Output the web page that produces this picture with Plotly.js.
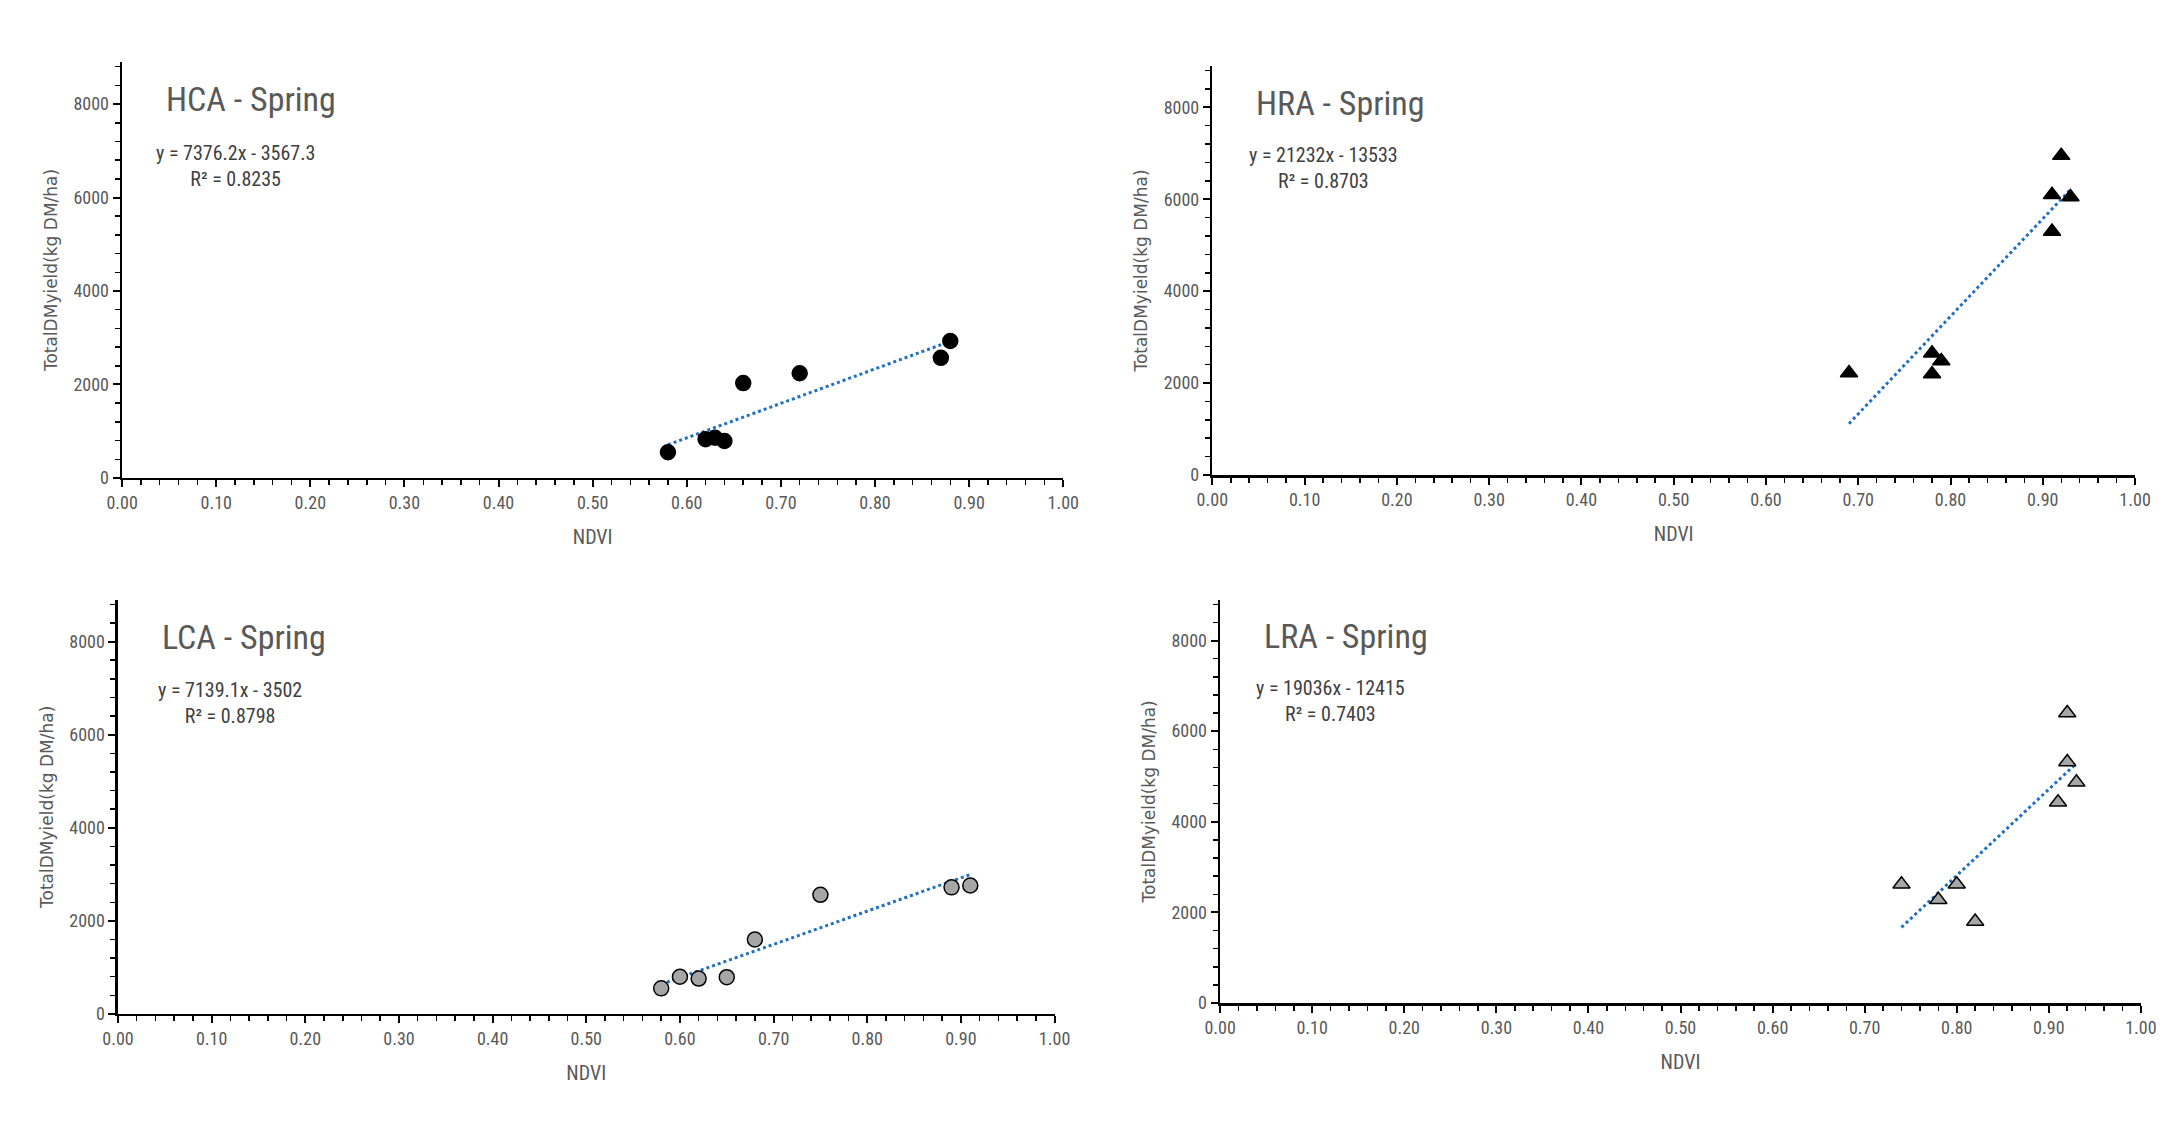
<!DOCTYPE html>
<html>
<head>
<meta charset="utf-8">
<script src="https://cdn.plot.ly/plotly-3.0.1.min.js"></script>
<style>
  html, body { margin: 0; padding: 0; background: #fff; }
  #chart { width: 2161px; height: 1138px; }
</style>
</head>
<body>
<div id="chart"></div>
<script>
// ---- data ----
const hcaX = [0.58, 0.62, 0.63, 0.64, 0.66, 0.72, 0.87, 0.88];
const hcaY = [550, 830, 860, 790, 2030, 2240, 2570, 2930];
const hraX = [0.69, 0.78, 0.78, 0.79, 0.91, 0.91, 0.92, 0.93];
const hraY = [2220, 2650, 2200, 2480, 6100, 5300, 6950, 6050];
const lcaX = [0.58, 0.60, 0.62, 0.65, 0.68, 0.75, 0.89, 0.91];
const lcaY = [550, 800, 760, 790, 1600, 2560, 2720, 2760];
const lraX = [0.74, 0.78, 0.80, 0.82, 0.91, 0.92, 0.92, 0.93];
const lraY = [2620, 2280, 2620, 1800, 4430, 6400, 5320, 4870];

// linear trend coefficients [slope, intercept] as printed on the chart
const hcaFit = [7376.2, -3567.3];
const hraFit = [21232, -13533];
const lcaFit = [7139.1, -3502];
const lraFit = [19036, -12415];

const panelTitles = ["HCA - Spring", "HRA - Spring", "LCA - Spring", "LRA - Spring"];
const equations = [
  "y = 7376.2x - 3567.3<br>R² = 0.8235",
  "y = 21232x - 13533<br>R² = 0.8703",
  "y = 7139.1x - 3502<br>R² = 0.8798",
  "y = 19036x - 12415<br>R² = 0.7403",
];

const narrow = "'Liberation Sans Narrow', 'Arial Narrow', 'Roboto Condensed', Roboto, sans-serif";
const labelGrey = "#595959";

function fitLine(xs, fit) {
  const x0 = Math.min(...xs), x1 = Math.max(...xs);
  return { x: [x0, x1], y: [fit[0] * x0 + fit[1], fit[0] * x1 + fit[1]] };
}

const panels = [
  { x: hcaX, y: hcaY, fit: hcaFit, sym: "circle", fill: "#000000", xd: [0.0565, 0.492], yd: [0.580, 0.9455] },
  { x: hraX, y: hraY, fit: hraFit, sym: "triangle-up", fill: "#000000", xd: [0.561, 0.988], yd: [0.5826, 0.942] },
  { x: lcaX, y: lcaY, fit: lcaFit, sym: "circle", fill: "#a6a6a6", xd: [0.0546, 0.488], yd: [0.109, 0.473] },
  { x: lraX, y: lraY, fit: lraFit, sym: "triangle-up", fill: "#a6a6a6", xd: [0.5646, 0.9907], yd: [0.1186, 0.473] },
];

const traces = [];
const layout = {
  width: 2161,
  height: 1138,
  margin: { l: 0, r: 0, t: 0, b: 0 },
  showlegend: false,
  plot_bgcolor: "#ffffff",
  paper_bgcolor: "#ffffff",
  annotations: [],
};

panels.forEach((p, i) => {
  const n = i === 0 ? "" : String(i + 1);
  const xa = "x" + n, ya = "y" + n;
  const tl = fitLine(p.x, p.fit);

  traces.push({
    x: tl.x, y: tl.y, xaxis: xa, yaxis: ya,
    mode: "lines", type: "scatter",
    line: { color: "#1f6fc5", width: 3, dash: "dot" },
    hoverinfo: "skip",
  });
  traces.push({
    x: p.x, y: p.y, xaxis: xa, yaxis: ya,
    mode: "markers", type: "scatter",
    marker: { symbol: p.sym, size: 15, color: p.fill, line: { color: "#000000", width: 1.5 } },
  });

  layout["xaxis" + n] = {
    domain: p.xd, anchor: ya, range: [0, 1],
    tick0: 0, dtick: 0.1, tickformat: ".2f",
    ticks: "outside", ticklen: 7, tickwidth: 2, tickcolor: "#000",
    minor: { dtick: 0.02, ticks: "outside", ticklen: 5, tickwidth: 1.5, tickcolor: "#000" },
    showline: true, linecolor: "#000", linewidth: 2.5,
    showgrid: false, zeroline: false,
    tickfont: { family: narrow, size: 18, color: labelGrey },
    title: { text: "NDVI", font: { family: narrow, size: 20, color: labelGrey }, standoff: 18 },
  };
  layout["yaxis" + n] = {
    domain: p.yd, anchor: xa, range: [0, 8900],
    tick0: 0, dtick: 2000,
    ticks: "outside", ticklen: 7, tickwidth: 2, tickcolor: "#000",
    minor: { dtick: 400, ticks: "outside", ticklen: 5, tickwidth: 1.5, tickcolor: "#000" },
    showline: true, linecolor: "#000", linewidth: 2.5,
    showgrid: false, zeroline: false,
    tickfont: { family: narrow, size: 18, color: labelGrey },
    title: { text: "TotalDMyield(kg DM/ha)", font: { family: "DejaVu Sans", size: 17, color: labelGrey }, standoff: 12 },
  };

  const xaRef = xa + " domain", yaRef = ya + " domain";
  layout.annotations.push({
    xref: xaRef, yref: yaRef, x: 0.045, y: 0.91, xanchor: "left", yanchor: "middle",
    text: panelTitles[i], showarrow: false,
    font: { family: narrow, size: 34, color: labelGrey },
  });
  layout.annotations.push({
    xref: xaRef, yref: yaRef, x: 0.12, y: 0.75, xanchor: "center", yanchor: "middle",
    text: equations[i], showarrow: false, align: "center",
    font: { family: narrow, size: 20, color: "#404040" },
  });
});

Plotly.newPlot("chart", traces, layout, { displayModeBar: false, staticPlot: true });
</script>
</body>
</html>
